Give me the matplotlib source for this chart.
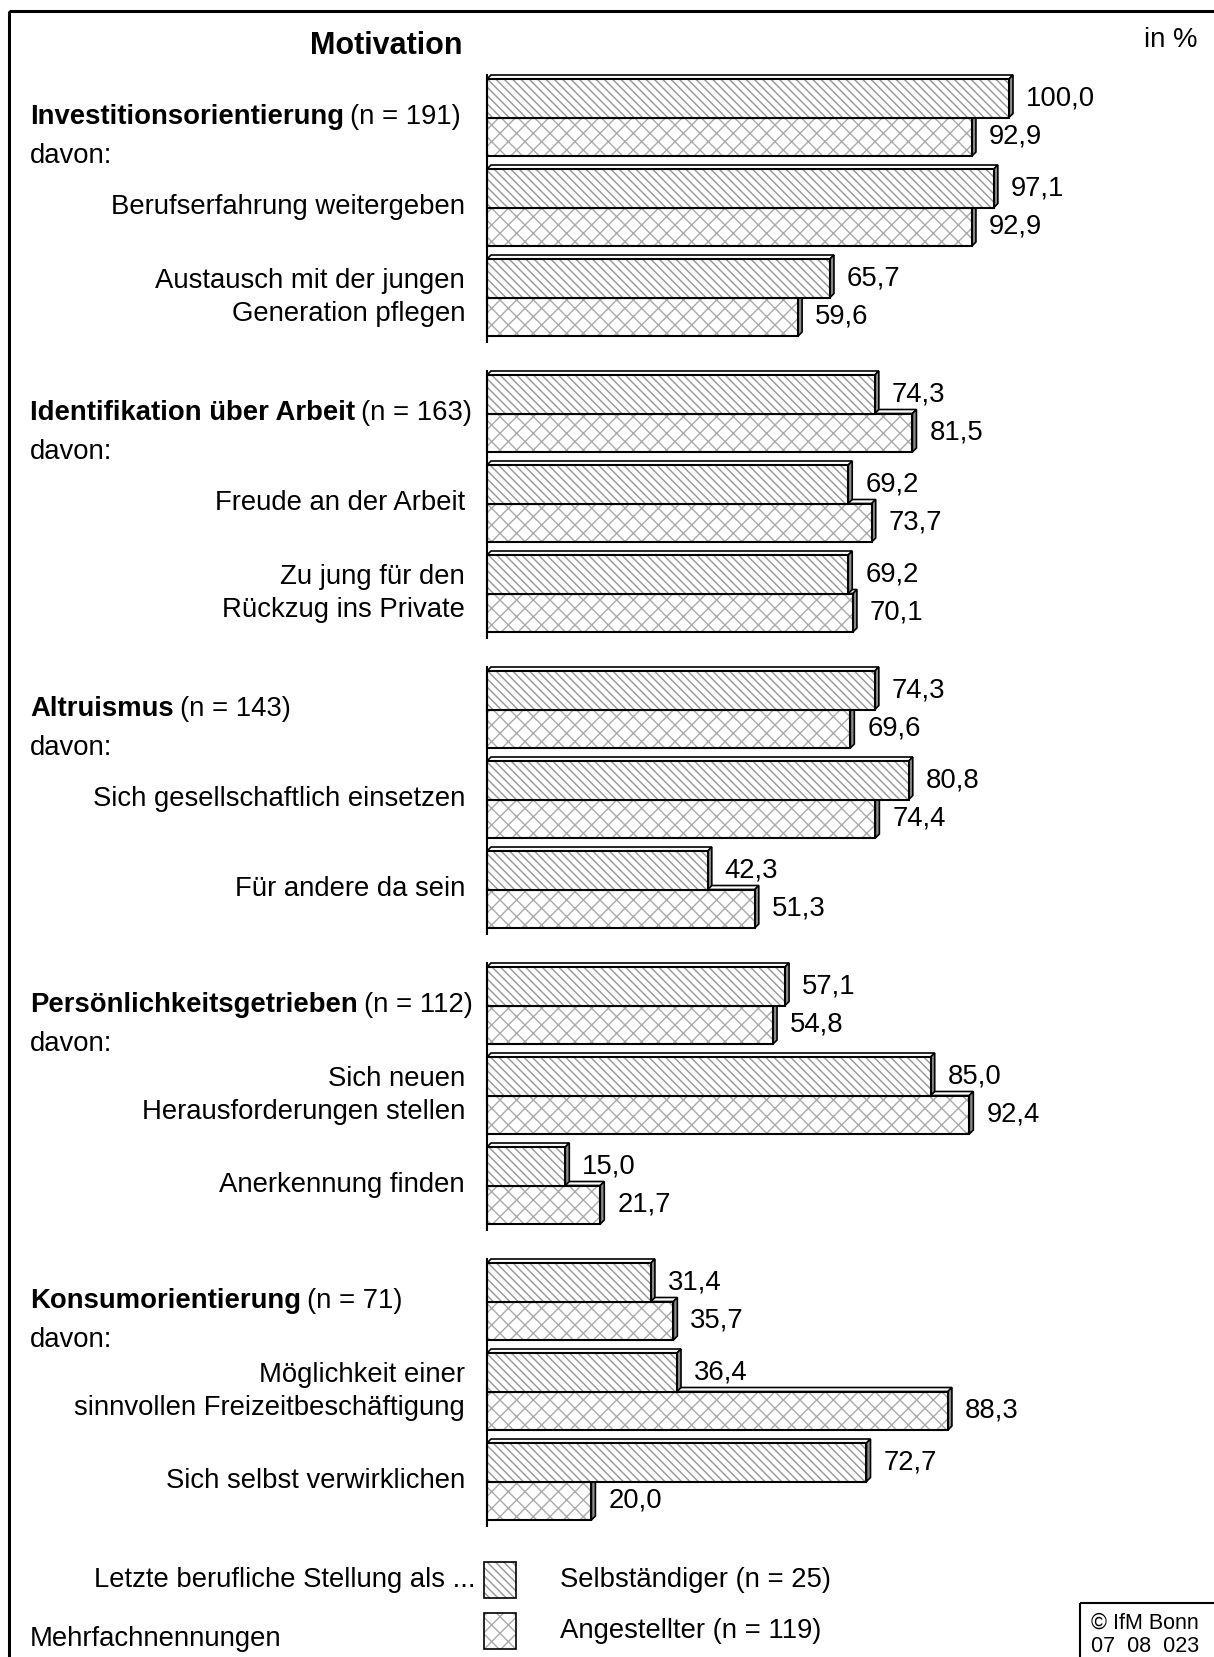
import matplotlib
matplotlib.use("Agg")
import matplotlib.pyplot as plt
import matplotlib.transforms as mtransforms
from matplotlib.patches import Polygon, Rectangle

# ---------------- data ----------------
groups = ["Investitionsorientierung", "Identifikation über Arbeit", "Altruismus",
          "Persönlichkeitsgetrieben", "Konsumorientierung"]
group_n = ["(n = 191)", "(n = 163)", "(n = 143)", "(n = 112)", "(n = 71)"]
sub_labels = [
    ["Berufserfahrung weitergeben", "Austausch mit der jungen\nGeneration pflegen"],
    ["Freude an der Arbeit", "Zu jung für den\nRückzug ins Private"],
    ["Sich gesellschaftlich einsetzen", "Für andere da sein"],
    ["Sich neuen\nHerausforderungen stellen", "Anerkennung finden"],
    ["Möglichkeit einer\nsinnvollen Freizeitbeschäftigung", "Sich selbst verwirklichen"],
]
selbst = [
    [100.0, 97.1, 65.7],
    [74.3, 69.2, 69.2],
    [74.3, 80.8, 42.3],
    [57.1, 85.0, 15.0],
    [31.4, 36.4, 72.7],
]
angest = [
    [92.9, 92.9, 59.6],
    [81.5, 73.7, 70.1],
    [69.6, 74.4, 51.3],
    [54.8, 92.4, 21.7],
    [35.7, 88.3, 20.0],
]
series_labels = ["Selbständiger (n = 25)", "Angestellter (n = 119)"]

# ---------------- styling / layout ----------------
W, H = 1214, 1657
plt.rcParams['font.family'] = ['Liberation Sans', 'DejaVu Sans']
plt.rcParams['hatch.linewidth'] = 1.0
FS = 19.8

fig = plt.figure(figsize=(W / 100, H / 100), dpi=100)
ax = fig.add_axes([0, 0, 1, 1])
X0 = 487.0          # pixel position of 0 %
S = 5.22            # pixels per percent
ax.set_xlim(-X0 / S, (W - X0) / S)
ax.set_ylim(H, 0)
ax.axis('off')

# pixel transform (origin top-left)
PX = mtransforms.Affine2D().scale(1 / W, -1 / H).translate(0, 1) + fig.transFigure

BAR_H = 38.5
DX = 4.0 / S     # depth offset in data units (x)
DY = 4.0         # depth offset in pixels (y)
GAP = 13.0 / S
HATCH_A = '\\\\\\\\'
HATCH_B = 'xx'
HC_A = '#959595'
HC_B = '#aaaaaa'

def draw_bar(yc, val, hatch, hcolor, zo):
    top = yc - BAR_H / 2
    bot = yc + BAR_H / 2
    # top face
    ax.add_patch(Polygon([(0, top), (DX, top - DY), (val + DX, top - DY), (val, top)],
                         closed=True, facecolor='white', edgecolor='black', lw=1.2, zorder=zo))
    # side face
    ax.add_patch(Polygon([(val, top), (val + DX, top - DY), (val + DX, bot - DY), (val, bot)],
                         closed=True, facecolor='#8c8c8c', edgecolor='black', lw=1.2, zorder=zo))
    ax.barh(yc, val, height=BAR_H, left=0, color='white', edgecolor=hcolor,
            hatch=hatch, linewidth=0, zorder=zo)
    ax.barh(yc, val, height=BAR_H, left=0, fill=False, edgecolor='black',
            linewidth=1.5, zorder=zo + 0.1)
    ax.text(val + DX + GAP, yc, f"{val:.1f}".replace('.', ','), fontsize=FS,
            va='center', ha='left', zorder=zo + 0.2)

fig.canvas.draw()
renderer = fig.canvas.get_renderer()

for g in range(len(groups)):
    gtop = 79 + g * 296
    for p in range(3):
        ptop = gtop + p * 90
        yc_a = ptop + BAR_H / 2
        yc_b = ptop + BAR_H * 1.5
        zo = 3 + p
        draw_bar(yc_b, angest[g][p], HATCH_B, HC_B, zo)
        draw_bar(yc_a, selbst[g][p], HATCH_A, HC_A, zo + 0.5)
        if p > 0:
            ax.text(465, ptop + BAR_H, sub_labels[g][p - 1], transform=PX, fontsize=FS,
                    ha='right', va='center', ma='right', linespacing=1.35)
    # axis line segment
    ax.plot([0, 0], [gtop - 5, gtop + 2 * 90 + 2 * BAR_H + 7], color='black', lw=1.5,
            zorder=10, solid_capstyle='butt')
    # heading
    t = ax.text(30, gtop + BAR_H, groups[g], transform=PX, fontsize=FS,
                fontweight='bold', ha='left', va='center')
    bb = t.get_window_extent(renderer)
    ax.text(30 + bb.width + 6, gtop + BAR_H, group_n[g], transform=PX, fontsize=FS,
            ha='left', va='center')
    ax.text(30, gtop + 2 * BAR_H, "davon:", transform=PX, fontsize=FS,
            ha='left', va='center')

# title and unit
ax.text(386, 46, "Motivation", transform=PX, fontsize=22, fontweight='bold',
        ha='center', va='center')
ax.text(1197, 40, "in %", transform=PX, fontsize=FS, ha='right', va='center')

# legend
ax.text(475, 1580, "Letzte berufliche Stellung als ...", transform=PX, fontsize=FS,
        ha='right', va='center')
for i, (hatch, hc) in enumerate([(HATCH_A, HC_A), (HATCH_B, HC_B)]):
    y0 = 1562 + i * 51
    ax.add_patch(Rectangle((484, y0), 32, 36, transform=PX, facecolor='white',
                           edgecolor=hc, hatch=hatch, lw=0))
    ax.add_patch(Rectangle((484, y0), 32, 36, transform=PX, fill=False,
                           edgecolor='black', lw=1.2))
    ax.text(560, y0 + 18, series_labels[i], transform=PX, fontsize=FS,
            ha='left', va='center')
ax.text(30, 1639, "Mehrfachnennungen", transform=PX, fontsize=FS, ha='left', va='center')

# copyright box
ax.add_patch(Rectangle((1080, 1603), 150, 80, transform=PX, fill=False,
                       edgecolor='black', lw=1.5, clip_on=False))
ax.text(1145, 1623, "© IfM Bonn", transform=PX, fontsize=15.5, ha='center', va='center')
ax.text(1145, 1646, "07  08  023", transform=PX, fontsize=15.5, ha='center', va='center')

# outer frame (left and top visible)
ax.add_patch(Rectangle((9, 11), 1250, 1700, transform=PX, fill=False,
                       edgecolor='black', lw=2.2, clip_on=False))

fig.savefig("out.png", dpi=100)
